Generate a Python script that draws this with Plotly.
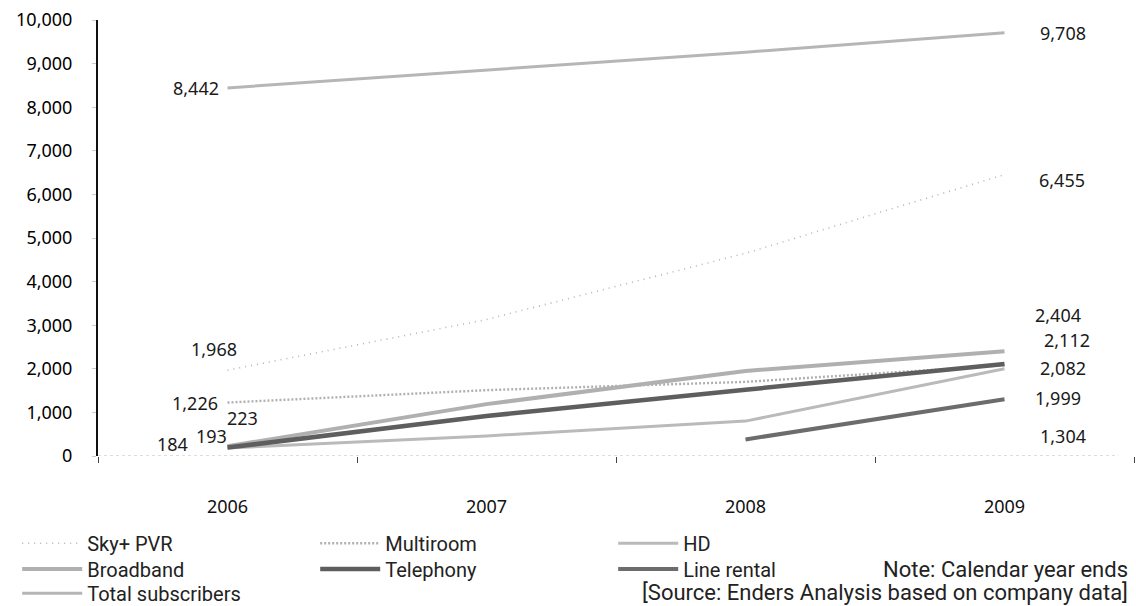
import plotly.graph_objects as go

# ---- data (thousands of subscribers) ----
years = ["2006", "2007", "2008", "2009"]
sky_plus_pvr = [1968, 3130, 4650, 6455]
multiroom = [1226, 1510, 1700, 2082]
hd = [184, 460, 800, 1999]
broadband = [223, 1190, 1950, 2404]
telephony = [193, 917, 1520, 2112]
line_rental = [None, None, 380, 1304]
total_subscribers = [8442, 8850, 9260, 9708]
y_ticks = [0, 1000, 2000, 3000, 4000, 5000, 6000, 7000, 8000, 9000, 10000]

note_text = "Note: Calendar year ends"
source_text = "[Source: Enders Analysis based on company data]"

# ---- styles ----
NUM_FONT = "Noto Sans"
LEG_FONT = "Roboto, sans-serif"

series = [
    ("Sky+ PVR", sky_plus_pvr, dict(color="#b4b4b4", width=1.6, dash="1px,5px"), "legend"),
    ("Multiroom", multiroom, dict(color="#b0b0b0", width=2.4, dash="2px,2px"), "legend"),
    ("HD", hd, dict(color="#bababa", width=3), "legend"),
    ("Broadband", broadband, dict(color="#b0b0b0", width=4), "legend2"),
    ("Telephony", telephony, dict(color="#5e5e5e", width=4.5), "legend2"),
    ("Line rental", line_rental, dict(color="#6c6c6c", width=4), "legend2"),
    ("Total subscribers", total_subscribers, dict(color="#b6b6b6", width=3), "legend3"),
]

# label offsets (px) for first / last data label: (xshift, yshift)
label_offsets = {
    "Sky+ PVR": ((-14, 21), (57, -5)),
    "Multiroom": ((-33, 0), (58, -3)),
    "HD": ((-55, 4), (53, -29)),
    "Broadband": ((15, 28), (53, 36)),
    "Telephony": ((-16, 12), (62, 24)),
    "Line rental": (None, (58, -37)),
    "Total subscribers": ((-32, 0), (58, 0)),
}

fig = go.Figure()
annotations = []
for name, vals, line, leg in series:
    fig.add_trace(go.Scatter(
        x=years, y=vals, name=name, mode="lines", line=line,
        legend=leg, hoverinfo="skip", connectgaps=False,
    ))
    idx = [i for i, v in enumerate(vals) if v is not None]
    first_off, last_off = label_offsets[name]
    for i, off in ((idx[0], first_off), (idx[-1], last_off)):
        if off is None:
            continue
        annotations.append(dict(
            x=i, y=vals[i], xref="x", yref="y", text=f"{vals[i]:,}",
            showarrow=False, xanchor="center", yanchor="middle",
            xshift=off[0], yshift=off[1],
            font=dict(family=NUM_FONT, size=18, color="#1a1a1a"),
        ))

annotations.append(dict(
    x=0.9961, y=-0.26, xref="paper", yref="paper", text=note_text,
    showarrow=False, xanchor="right", yanchor="middle",
    font=dict(family=LEG_FONT, size=22, color="#222222"),
))
annotations.append(dict(
    x=0.9961, y=-0.314, xref="paper", yref="paper", text=source_text,
    showarrow=False, xanchor="right", yanchor="middle",
    font=dict(family=LEG_FONT, size=22, color="#222222"),
))

leg_common = dict(
    orientation="h", xanchor="left", yanchor="middle",
    entrywidth=223, entrywidthmode="pixels", itemwidth=60,
    bgcolor="rgba(0,0,0,0)", borderwidth=0, tracegroupgap=0,
    font=dict(family=LEG_FONT, size=20, color="#222222"),
    itemclick=False, itemdoubleclick=False,
)

fig.update_layout(
    width=1136, height=606,
    margin=dict(l=98, r=2, t=20, b=150, autoexpand=False),
    paper_bgcolor="white", plot_bgcolor="white",
    showlegend=True,
    legend=dict(leg_common, x=-0.078, y=-0.2),
    legend2=dict(leg_common, x=-0.078, y=-0.259),
    legend3=dict(leg_common, x=-0.078, y=-0.315),
    annotations=annotations,
    shapes=[dict(type="line", xref="paper", yref="y", x0=0, x1=0.985, y0=0, y1=0,
                 line=dict(color="#bbbbbb", width=1.2, dash="dot"), layer="below")],
    xaxis=dict(
        type="category", range=[-0.5, 3.5], showgrid=False, zeroline=False,
        showline=False, ticks="outside", tickson="boundaries", ticklen=6,
        tickcolor="#444444", tickwidth=1,
        tickfont=dict(family=NUM_FONT, size=18, color="#111111"),
        ticklabelstandoff=38,
    ),
    yaxis=dict(
        range=[0, 10000], tickvals=y_ticks, tickformat=",", showgrid=False,
        zeroline=False, showline=True, linecolor="#111111", linewidth=2,
        ticks="outside", ticklen=4, tickcolor="#cccccc",
        tickfont=dict(family=NUM_FONT, size=18, color="#000000"),
        ticklabelstandoff=16,
    ),
)

fig.write_html("out.html")
